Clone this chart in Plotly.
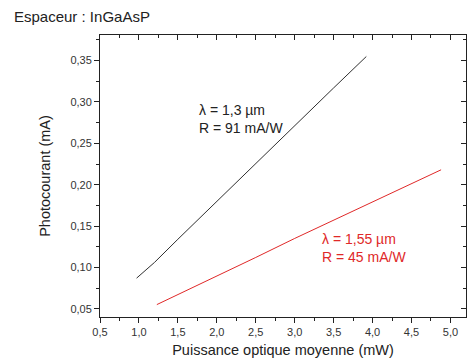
import plotly.graph_objects as go

# Photocourant vs puissance optique (lectures sur la figure)
p_13 = [0.97, 1.2, 1.5, 2.0, 2.5, 3.0, 3.5, 3.92]
i_13 = [0.087, 0.106, 0.134, 0.180, 0.225, 0.271, 0.317, 0.355]
p_155 = [1.23, 1.5, 2.0, 2.5, 3.0, 3.5, 4.0, 4.5, 4.88]
i_155 = [0.055, 0.067, 0.090, 0.112, 0.135, 0.157, 0.180, 0.202, 0.218]

label_13 = "λ = 1,3 µm<br>R = 91 mA/W"
label_155 = "λ = 1,55 µm<br>R = 45 mA/W"

x_range = [0.5, 5.2]
y_range = [0.04, 0.381]

font = "Liberation Sans, Arial, sans-serif"

fig = go.Figure()
fig.add_trace(go.Scatter(x=p_13, y=i_13, mode="lines", line=dict(color="#303030", width=1)))
fig.add_trace(go.Scatter(x=p_155, y=i_155, mode="lines", line=dict(color="#e02828", width=1)))
# dummy trace for the mirrored frame axes (ticks pointing inward)
fig.add_trace(go.Scatter(x=[None], y=[None], xaxis="x2", yaxis="y2", showlegend=False))

axis_common = dict(showgrid=False, zeroline=False, showline=True, linecolor="#222", linewidth=1,
                   tickcolor="#222", ticklen=5, tickwidth=1, automargin=False)

fig.update_layout(
    width=467,
    height=361,
    showlegend=False,
    plot_bgcolor="white",
    paper_bgcolor="white",
    separators=", ",
    margin=dict(l=100, r=1, t=35, b=44),
    font=dict(family=font, color="#222"),
    xaxis=dict(
        range=x_range, dtick=0.5, tick0=0.5, tickformat=".1f", ticks="outside",
        minor=dict(dtick=0.25, ticks="outside", ticklen=3, tickcolor="#222"),
        tickfont=dict(size=11, color="#333"),
        title=dict(text="Puissance optique moyenne (mW)", font=dict(size=14.5), standoff=7),
        **axis_common,
    ),
    yaxis=dict(
        range=y_range, dtick=0.05, tick0=0.05, tickformat=".2f", ticks="outside",
        minor=dict(dtick=0.025, ticks="outside", ticklen=3, tickcolor="#222"),
        tickfont=dict(size=11, color="#333"),
        title=dict(text="Photocourant (mA)", font=dict(size=14.5), standoff=16),
        **axis_common,
    ),
    xaxis2=dict(
        range=x_range, dtick=0.5, tick0=0.5, ticks="inside", overlaying="x", side="top",
        showticklabels=False, minor=dict(dtick=0.25, ticks="inside", ticklen=3, tickcolor="#222"),
        **axis_common,
    ),
    yaxis2=dict(
        range=y_range, dtick=0.05, tick0=0.05, ticks="inside", overlaying="y", side="right",
        showticklabels=False, minor=dict(dtick=0.025, ticks="inside", ticklen=3, tickcolor="#222"),
        **axis_common,
    ),
    annotations=[
        dict(text="Espaceur : InGaAsP", xref="paper", yref="paper", x=-0.24, y=1.03,
             xanchor="left", yanchor="bottom", showarrow=False, font=dict(size=15, color="#222")),
        dict(text=label_13, x=1.74, y=0.279, xanchor="left", yanchor="middle", align="left",
             showarrow=False, font=dict(size=14, color="#222")),
        dict(text=label_155, x=3.32, y=0.1233, xanchor="left", yanchor="middle", align="left",
             showarrow=False, font=dict(size=14, color="#e02828")),
    ],
)

# the page has a default body margin; drop it so the figure sits at the window's corner
fig.write_html("out.html", config={"displayModeBar": False},
               post_script="document.body.style.margin='0';")
